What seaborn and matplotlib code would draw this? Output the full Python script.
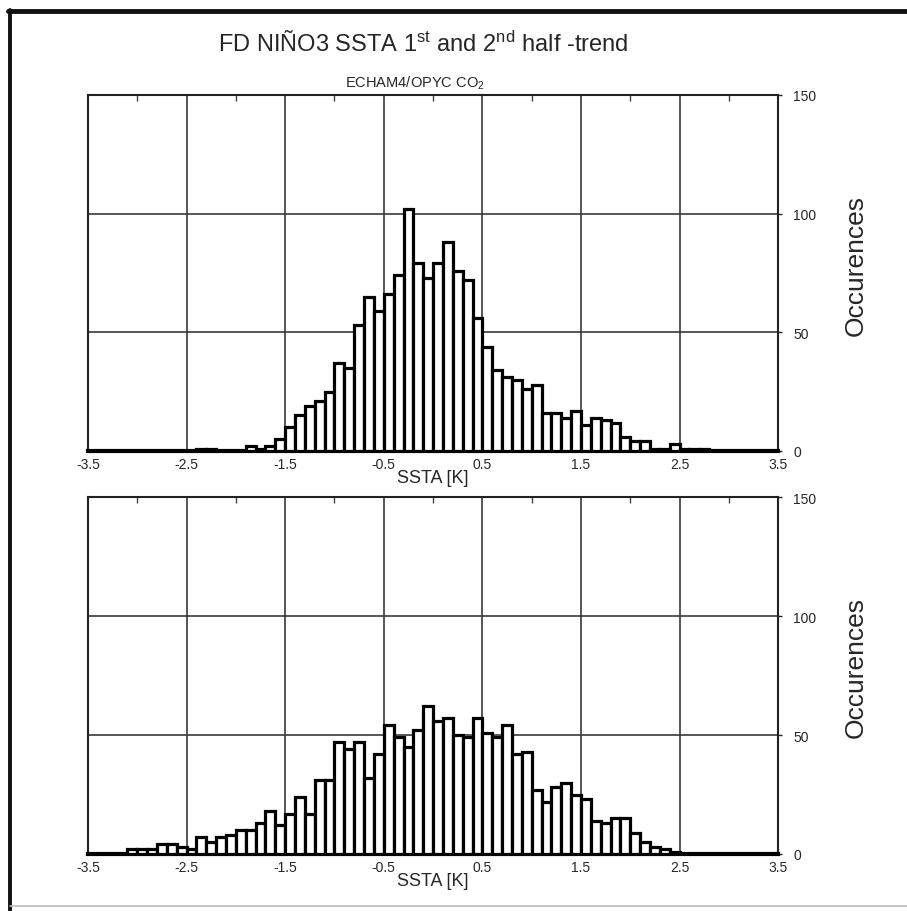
import numpy as np
import pandas as pd
import matplotlib
matplotlib.use('Agg')
import matplotlib.pyplot as plt
from matplotlib.lines import Line2D
from matplotlib.ticker import MultipleLocator, FixedLocator
import seaborn as sns

# bins of 0.1 K from -3.5 to 3.5
bin_edges = [round(v, 2) for v in np.arange(-3.5, 3.51, 0.1)]
bin_centers = [round(v + 0.05, 3) for v in bin_edges[:-1]]

# counts per bin, first half (top panel)
counts_first = [
    0, 0, 0, 0, 0, 0, 0, 0, 0, 0,
    0, 1, 1, 0, 0, 0, 2, 1, 2, 5,
    10, 15, 19, 21, 25, 37, 35, 53, 65, 59,
    66, 74, 102, 79, 73, 79, 88, 76, 72, 56,
    44, 34, 31, 30, 26, 28, 16, 16, 14, 17,
    11, 14, 13, 12, 6, 4, 4, 1, 1, 3,
    1, 1, 1, 0, 0, 0, 0, 0, 0, 0,
]

# counts per bin, second half (bottom panel)
counts_second = [
    0, 0, 0, 0, 2, 2, 2, 4, 4, 3,
    2, 7, 5, 7, 8, 10, 10, 13, 18, 12,
    17, 24, 17, 31, 31, 47, 44, 47, 32, 42,
    54, 49, 45, 52, 62, 56, 57, 50, 49, 57,
    51, 49, 54, 42, 43, 27, 22, 28, 30, 25,
    23, 14, 13, 15, 15, 9, 5, 3, 2, 1,
    0, 0, 0, 0, 0, 0, 0, 0, 0, 0,
]

xticks = [-3.5, -2.5, -1.5, -0.5, 0.5, 1.5, 2.5, 3.5]
xticklabels = ['-3.5', '-2.5', '-1.5', '-0.5', '0.5', '1.5', '2.5', '3.5']
yticks = [0, 50, 100, 150]

sns.set_style('white')
plt.rcParams['font.family'] = ['Liberation Sans', 'DejaVu Sans']
plt.rcParams['mathtext.fontset'] = 'custom'
plt.rcParams['mathtext.rm'] = 'Liberation Sans'
plt.rcParams['mathtext.it'] = 'Liberation Sans:italic'
plt.rcParams['mathtext.default'] = 'regular'

fig = plt.figure(figsize=(9.07, 9.12), dpi=100)
ax1 = fig.add_axes([0.097, 0.5044, 0.761, 0.3904])
ax2 = fig.add_axes([0.097, 0.0625, 0.761, 0.3914])


def draw_panel(ax, counts):
    df = pd.DataFrame({'ssta': bin_centers, 'n': counts})
    sns.histplot(data=df, x='ssta', weights='n', bins=bin_edges, ax=ax,
                 color='white', edgecolor='black', linewidth=2.3, alpha=1,
                 zorder=3)
    ax.set_xlim(-3.5, 3.5)
    ax.set_ylim(0, 150)
    ax.xaxis.set_major_locator(FixedLocator(xticks))
    ax.set_xticklabels(xticklabels, fontsize=10)
    ax.xaxis.set_minor_locator(MultipleLocator(1.0))
    ax.yaxis.tick_right()
    ax.yaxis.set_label_position('right')
    ax.set_yticks(yticks)
    ax.set_yticklabels([str(v) for v in yticks], fontsize=10)
    ax.tick_params(axis='x', which='major', length=0, pad=4)
    ax.tick_params(axis='x', which='minor', top=True, bottom=False,
                   direction='in', length=4, width=1, color='#444444')
    ax.tick_params(axis='y', which='major', right=True, left=False,
                   length=3, width=1, pad=8)
    ax.grid(True, which='major', color='#3a3a3a', linewidth=1.2, zorder=0)
    ax.set_axisbelow(True)
    for s in ax.spines.values():
        s.set_visible(True)
        s.set_color('#222222')
        s.set_linewidth(1.5)
    ax.spines['bottom'].set_color('black')
    ax.spines['bottom'].set_linewidth(3)
    ax.set_xlabel('SSTA [K]', fontsize=13, labelpad=-1)
    ax.set_ylabel('Occurences', fontsize=19)
    ax.yaxis.set_label_coords(1.095, 0.525)


draw_panel(ax1, counts_first)
draw_panel(ax2, counts_second)

fig.text(0.467, 0.951, r'FD NIÑO3 SSTA 1$^{st}$ and 2$^{nd}$ half -trend',
         ha='center', va='center', fontsize=17)
fig.text(0.4575, 0.909, r'ECHAM4/OPYC CO$_{2}$', ha='center', va='center',
         fontsize=10.5)

# scanned page frame
fig.add_artist(Line2D([0.009, 1.0], [0.987, 0.987], color='#111111',
                      linewidth=3.5, transform=fig.transFigure))
fig.add_artist(Line2D([0.0105, 0.0105], [0.988, 0.0], color='#111111',
                      linewidth=2.8, transform=fig.transFigure))
fig.add_artist(Line2D([0.0105, 1.0], [0.006, 0.006], color='#bbbbbb',
                      linewidth=1.2, transform=fig.transFigure))

fig.savefig('out.png', dpi=100)
